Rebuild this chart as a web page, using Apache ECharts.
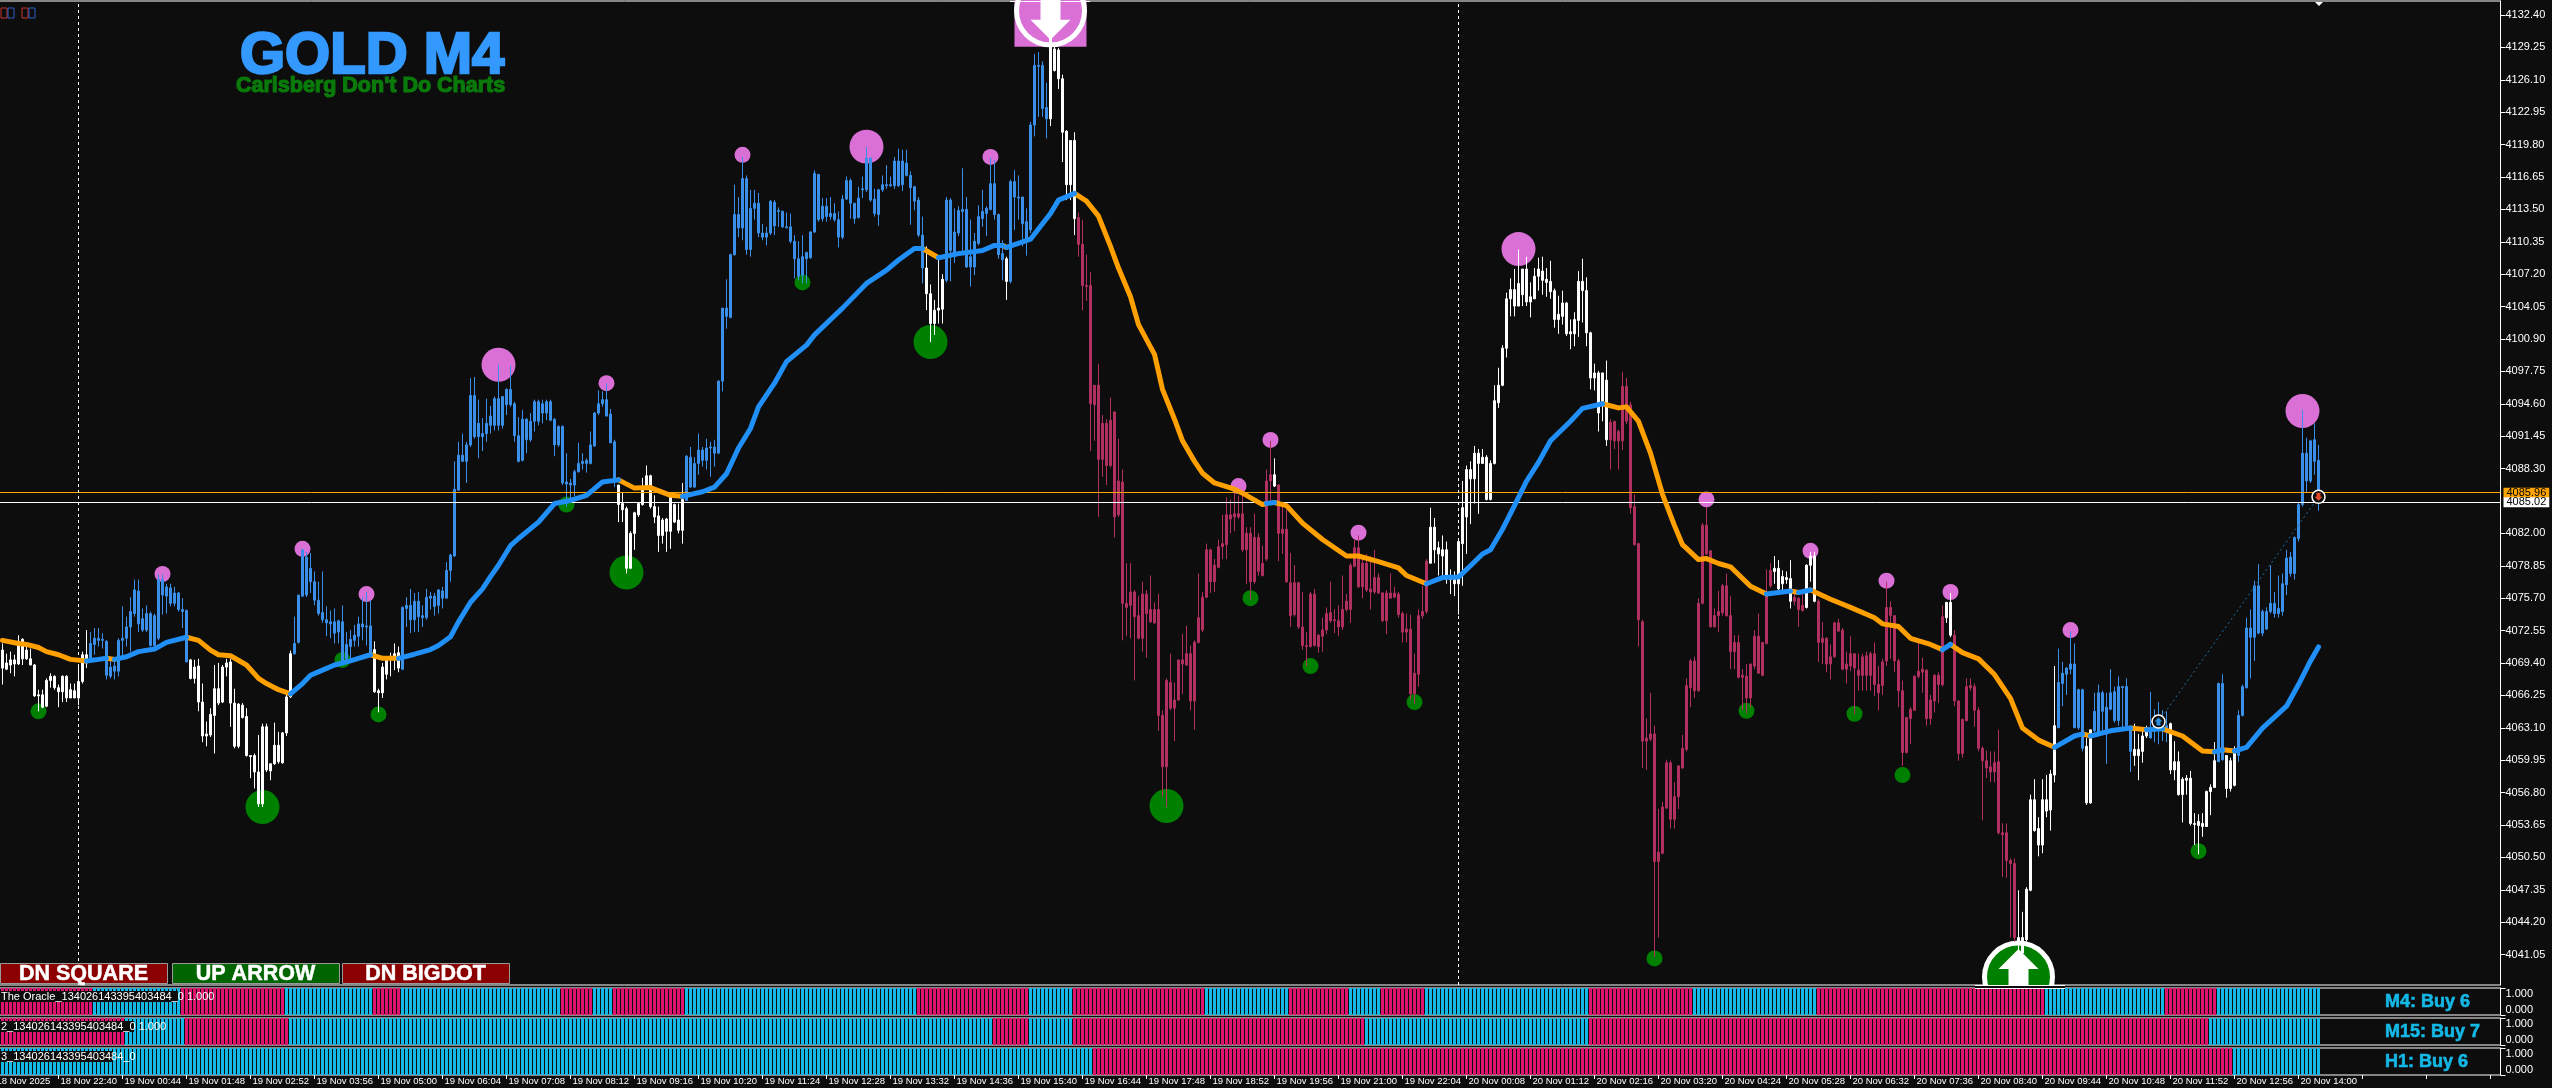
<!DOCTYPE html>
<html><head><meta charset="utf-8">
<style>html,body{margin:0;padding:0;background:#0d0d0d}#c{width:2552px;height:1088px}</style>
<script src="https://cdn.jsdelivr.net/npm/echarts@6/dist/echarts.min.js"></script>
</head><body><div id="c"></div>
<script>
const PRICE_BASE = 4000;
// each candle row: body high, body low, wick high, wick low (price minus PRICE_BASE)
const W1=[[70.65,68.9,71.3,67.3],[69.4,68.8,70.3,68.7],[69.7,69.2,70.5,68.4],[69.7,69.3,70.2,68.1],[71.5,69.3,72.1,69.2],[71.7,69.8,71.8,69.2],[70.65,69.8,71.1,69.7],[69.8,69.2,70.8,69.2],[69.2,66.2,69.3,66.1],[66.3,66.2,66.8,64.7],[66.3,65.1,66.8,65.0],[67.7,65.2,67.9,65.1],[68.1,67.7,68.4,67.0],[68.1,67.0,68.2,66.8],[67.0,66.6,67.3,65.1],[68.1,66.6,68.2,65.6],[68.1,66.0,68.2,65.6],[66.8,66.0,67.4,66.0],[66.7,66.0,67.4,66.0],[67.6,66.0,69.2,65.3],[70.2,67.6,70.5,67.4],[70.2,69.4,72.6,68.9]];
const B1=[[71.3,69.8,72.4,69.8],[71.8,71.2,72.8,70.2],[71.8,71.6,72.8,71.0],[71.7,71.6,72.3,70.8],[71.5,68.2,71.6,67.8],[69.0,68.1,70.0,67.9],[69.1,68.6,69.8,67.8],[71.6,68.6,71.8,68.1],[71.8,71.6,74.9,69.8],[72.9,71.8,73.9,71.0],[74.4,72.9,75.8,70.5],[76.5,74.2,77.5,73.9],[76.4,73.2,77.5,72.4],[73.7,72.6,74.7,72.4],[74.2,72.6,75.0,72.4],[74.2,71.1,74.4,71.0],[74.0,71.1,74.2,71.0],[77.5,71.8,78.0,71.6],[77.5,76.0,78.0,74.1],[76.8,75.9,77.1,74.2],[76.7,75.2,77.1,74.9],[76.2,75.2,76.8,74.9],[76.2,74.6,76.3,74.4],[74.6,74.4,75.7,72.8],[74.5,69.5,74.6,69.5]];
const W2=[[69.7,67.9,69.8,67.8],[69.0,67.9,69.7,67.4],[69.1,65.6,69.8,64.7],[65.6,62.3,67.4,61.7],[62.5,62.3,63.7,61.3],[64.4,62.4,65.0,62.2],[66.9,64.3,69.2,60.6],[66.9,65.5,69.4,65.3],[69.0,65.6,69.2,65.5],[69.4,69.0,69.8,68.1],[69.5,65.5,69.8,63.2],[65.5,61.3,66.9,61.1],[65.4,61.3,65.5,61.1],[65.3,64.1,65.5,64.0],[64.2,60.4,65.0,60.3],[60.4,60.3,60.4,58.2],[60.4,58.8,60.6,57.2],[58.8,55.7,62.4,55.4],[63.2,55.7,63.5,55.4],[63.2,59.0,63.5,58.8],[59.6,58.9,59.6,58.0],[61.4,59.6,63.6,59.5],[61.4,59.8,62.7,59.6],[62.6,59.7,62.7,59.6],[66.1,62.6,66.4,62.3],[70.3,66.1,70.6,66.0]];
const B2=[[71.3,70.3,73.9,70.2],[76.0,71.4,76.0,71.3],[80.4,75.9,80.4,75.8],[79.7,76.0,80.2,75.8],[78.6,77.3,80.1,76.2],[77.3,75.5,78.3,75.0],[75.5,74.2,77.3,74.0],[74.3,73.6,78.3,73.3],[73.6,73.3,74.9,72.0],[73.4,73.2,74.5,71.8],[73.4,72.3,74.7,71.3],[73.5,72.4,73.6,71.3],[73.4,69.4,75.0,69.2],[71.2,69.8,72.4,69.4],[71.7,71.0,72.6,69.8],[72.1,71.6,73.1,71.0],[73.2,72.0,73.9,71.0],[73.2,72.9,75.8,71.6],[73.0,72.9,76.3,71.1],[73.0,70.2,75.5,70.2]];
const W3=[[70.7,66.6,71.5,66.5],[66.7,66.5,66.9,64.6],[69.0,66.5,69.4,66.0],[69.7,68.3,70.0,67.8],[69.8,69.7,70.4,68.1],[70.3,69.8,71.3,68.7],[70.4,68.9,71.0,68.5]];
const B3=[[74.8,68.8,74.9,68.7],[75.0,74.7,75.8,72.9],[75.0,73.6,76.6,72.3],[75.4,73.6,76.2,72.4],[75.4,73.9,76.3,72.4],[74.0,73.8,75.0,72.9],[75.8,73.8,76.6,73.6],[75.9,75.7,76.3,74.6],[75.9,74.9,76.2,74.0],[76.5,75.0,76.6,74.2],[76.4,75.7,76.8,74.7],[78.4,75.7,79.2,75.7],[79.9,78.4,80.0,77.3],[86.3,79.8,89.0,79.7],[89.6,86.2,90.9,86.2],[89.6,89.0,91.7,89.0],[90.6,89.0,90.9,86.9],[95.4,90.6,97.1,90.4],[95.4,91.4,97.2,91.2],[92.7,91.4,95.0,89.3],[91.7,91.4,93.2,90.0],[92.7,91.7,95.1,90.9],[93.4,92.5,94.4,91.7],[95.1,92.5,95.3,92.0],[95.1,92.5,98.4,92.0],[95.3,92.5,95.3,92.2],[96.0,94.5,96.1,93.5],[96.0,94.5,98.3,94.3],[94.6,91.5,94.8,90.9],[91.5,89.0,93.3,88.9],[93.1,89.1,94.0,89.0],[93.1,91.1,93.2,89.8],[92.9,91.1,93.7,90.9],[94.8,92.9,95.0,91.9],[94.8,92.9,95.0,92.5],[94.6,93.7,95.0,92.7],[94.8,93.7,95.0,93.0],[94.8,93.0,95.0,92.9],[93.1,90.6,93.2,89.5],[92.4,90.6,92.5,90.4],[92.4,86.9,92.5,86.7],[87.0,86.8,89.8,84.6],[86.9,86.7,87.3,85.2],[88.0,86.7,88.2,85.6],[88.8,88.0,90.8,87.9],[89.0,88.8,89.8,88.2],[89.1,88.8,89.3,87.9],[90.6,88.8,91.9,88.7],[93.7,90.5,93.8,90.4],[94.6,93.7,95.9,93.5],[95.0,94.6,95.8,94.3],[95.0,93.4,96.6,93.4],[93.6,90.8,94.1,90.8],[90.9,87.0,91.1,86.5]];
const W4=[[86.7,84.8,86.7,83.1],[84.9,84.3,86.0,83.1],[84.4,78.6,84.6,78.1],[82.0,78.6,82.2,78.6],[84.0,82.0,84.1,80.4],[84.9,83.8,85.0,83.6],[86.3,84.8,87.4,84.7],[87.6,86.5,88.6,86.5],[87.6,84.6,87.7,84.4],[84.6,83.6,85.7,83.0],[83.7,81.8,84.6,80.2],[83.3,81.8,83.5,81.0],[83.4,82.2,83.5,80.2],[85.6,82.2,85.7,80.5],[84.8,83.1,84.9,83.0],[83.3,82.3,84.9,82.0],[85.3,82.3,86.9,81.0]];
const B4=[[89.5,85.2,89.6,85.2],[89.4,86.5,90.4,86.4],[88.8,86.5,89.4,86.4],[90.1,88.8,91.7,87.7],[90.1,89.1,90.4,88.5],[90.3,89.1,91.2,88.2],[90.4,90.3,90.9,87.5],[90.4,89.8,91.1,88.5],[96.8,89.8,96.9,89.7],[103.9,96.8,103.9,95.8],[103.9,103.1,106.7,101.9],[109.1,103.0,109.2,102.9],[113.0,109.1,115.9,109.0],[113.0,111.7,114.7,110.8],[116.5,111.7,118.6,110.5],[116.5,109.6,116.8,109.1],[113.6,109.6,115.4,108.9],[114.1,113.6,115.4,112.5],[114.1,111.2,115.1,110.8],[111.2,110.8,112.1,110.5],[111.2,110.8,111.8,110.0],[114.3,111.2,114.4,111.0],[114.2,111.9,114.4,111.0],[113.4,113.3,113.7,111.8],[113.3,111.8,113.4,111.7],[111.8,111.7,113.2,111.7],[111.8,110.4,113.1,110.2],[110.4,108.7,111.0,106.8],[108.7,107.0,110.4,106.6],[108.9,107.1,111.0,106.3],[109.3,108.7,109.4,106.3],[111.3,108.8,111.4,108.7],[117.0,111.3,117.3,111.2],[116.9,112.5,116.9,112.3],[113.8,112.6,114.6,112.3],[113.8,112.8,114.6,112.3],[113.1,112.8,114.7,112.5],[113.1,112.5,114.1,112.3],[112.5,110.8,113.3,109.8],[114.5,110.8,114.9,110.6],[116.3,114.5,116.7,114.4],[116.3,114.1,116.5,112.6],[114.1,112.6,114.1,112.1],[114.6,112.7,115.7,112.6],[115.5,115.4,116.7,114.6],[118.5,115.4,119.6,115.2],[118.5,114.4,118.5,114.25],[114.5,113.1,115.5,112.8],[115.4,113.0,115.5,111.9],[115.9,115.4,116.8,115.2],[115.9,115.8,117.8,115.5],[115.9,115.8,116.7,115.7],[118.2,115.8,118.6,115.5],[118.2,115.8,119.4,115.7],[118.2,115.9,119.3,115.3],[118.0,116.8,119.3,116.7],[116.8,115.6,117.2,112.0],[115.7,114.3,115.8,113.4],[114.4,111.0,114.7,110.8],[111.0,107.8,112.8,106.3]];
const W5=[[107.8,105.3,109.9,103.7],[105.3,102.4,106.2,100.6],[103.7,102.4,104.7,101.3],[103.9,103.7,108.9,102.4],[106.7,103.8,107.2,102.4]];
const B5=[[114.4,106.6,114.7,106.4],[114.4,109.5,114.6,106.5],[111.3,108.9,113.6,108.3],[113.4,111.2,113.8,110.9],[113.5,113.3,117.5,109.2],[113.5,107.9,114.7,107.8],[108.9,107.9,112.5,106.0],[110.4,107.9,111.2,107.1],[112.8,110.2,113.9,110.0],[113.3,112.6,115.4,111.8],[113.6,113.1,113.8,110.9],[116.0,113.5,118.5,113.4],[116.0,113.0,118.3,112.5],[113.0,109.1,113.1,108.7],[109.2,108.6,110.5,106.6]];
const W6a=[[108.7,106.5,108.9,104.7]];
const B6=[[116.2,106.5,116.4,106.3],[116.2,114.7,117.3,111.5],[114.7,114.6,116.8,112.5],[114.7,112.1,114.7,109.9],[112.3,110.5,113.6,109.0],[121.7,111.5,122.0,111.2],[127.5,121.7,128.6,120.6],[127.5,127.4,128.8,122.5],[127.5,123.3,127.9,122.5],[123.4,122.3,125.8,120.4]];
const W6=[[133.5,122.3,133.5,121.6],[129.1,127.0,129.3,126.9],[129.0,126.2,129.2,125.2],[126.2,121.0,126.6,118.1],[121.1,115.9,121.2,114.4],[120.2,115.9,120.2,114.4],[120.2,112.6,121.0,111.0]];
const C1=[[112.7,110.1,113.2,108.9],[110.1,106.1,112.5,103.7],[106.1,106.0,109.1,104.6],[106.1,94.6,107.4,90.0],[96.4,94.5,96.4,91.0],[96.4,89.2,98.5,83.6],[92.7,89.2,93.5,87.5],[92.7,88.6,93.1,86.7],[93.0,88.6,95.2,88.4],[93.8,83.6,93.9,81.6],[87.1,83.8,91.2,83.6],[87.0,75.2,88.2,71.6],[75.2,74.8,79.1,72.0],[76.3,75.0,79.1,71.8],[76.3,73.9,76.5,67.7],[74.0,71.8,75.9,71.7],[76.1,71.8,77.3,70.5],[76.1,74.2,76.5,69.9],[74.6,73.4,77.9,73.3],[74.6,73.3,75.3,73.2],[74.6,64.3,76.1,62.8],[64.3,59.3,64.8,56.4],[67.7,59.3,67.9,55.4],[67.5,65.0,70.3,64.8],[65.8,65.0,67.5,61.8],[69.7,65.8,69.7,65.7],[69.7,69.3,72.2,66.4],[70.3,69.2,73.0,69.1],[70.3,65.7,71.1,64.8],[71.4,65.7,71.6,62.9],[73.8,71.4,78.1,71.3],[75.8,72.6,76.3,72.4],[80.4,75.8,81.0,75.7],[80.4,77.3,80.5,76.2],[78.9,77.3,79.5,76.3],[80.7,78.7,81.4,78.6],[81.0,80.7,83.8,79.5],[83.8,80.9,85.5,79.5],[83.8,83.4,85.3,82.0],[83.9,83.6,86.1,82.2],[83.9,83.6,85.7,83.4],[83.9,80.4,85.7,80.2],[82.0,80.4,82.6,77.1],[82.0,77.3,82.6,75.6],[81.6,77.3,83.9,77.1],[81.6,78.3,82.0,77.9],[79.1,77.9,80.8,77.8],[87.1,79.5,88.2,79.3],[87.7,87.1,91.0,84.9]];
const W7=[[87.7,86.6,89.3,86.5]];
const C2=[[86.7,82.0,86.8,79.3],[82.4,82.0,84.7,80.0],[82.4,77.3,84.3,77.2],[77.2,74.0,80.1,72.9],[77.2,74.1,78.9,73.9],[77.2,72.9,77.3,72.7],[72.9,71.1,76.3,70.7],[71.1,71.0,72.4,69.1],[76.1,71.0,76.3,70.9],[76.1,71.1,76.6,71.0],[72.1,71.0,72.2,70.4],[72.6,72.0,73.8,70.5],[74.2,72.6,74.8,72.2],[74.3,73.5,77.3,73.3],[73.6,73.5,74.6,72.3],[73.5,72.9,75.0,72.0],[74.6,72.9,77.9,72.6],[75.4,74.6,76.1,74.4],[78.9,74.6,79.1,73.3],[80.6,78.8,81.4,78.7],[80.6,76.8,81.8,76.7],[79.1,76.8,79.8,75.7],[79.1,76.5,80.0,76.3],[76.6,76.3,79.8,74.6],[77.7,76.3,80.4,76.1],[77.7,76.2,78.1,76.1],[76.2,73.5,76.3,73.4],[76.2,73.5,76.5,72.2],[76.2,75.7,78.1,75.7],[76.2,75.8,76.8,75.7],[76.1,74.1,76.3,73.8],[74.2,72.4,74.4,71.4],[72.7,72.4,74.2,71.4],[72.7,66.4,74.1,65.8],[68.4,66.4,70.3,65.4],[74.0,68.3,74.6,67.1],[74.4,74.0,76.9,73.7],[79.3,74.4,79.5,74.2]];
const W8=[[82.6,79.1,84.5,79.1],[82.6,80.4,83.5,79.1],[80.6,80.0,81.2,77.9],[80.4,79.8,81.8,77.9],[80.4,77.9,81.2,77.1],[77.9,77.5,78.5,76.1],[77.5,77.1,78.3,75.9],[81.2,77.1,81.2,74.1],[84.5,81.0,87.1,76.9],[88.2,83.6,88.6,80.0],[88.2,87.3,89.0,82.9],[89.8,87.3,90.5,84.9],[89.8,88.8,90.2,83.9],[89.4,88.8,90.2,88.8],[89.4,85.3,89.6,85.2],[88.8,85.3,89.1,85.2],[94.9,88.8,96.4,88.7],[96.4,94.7,98.1,94.2],[100.0,96.4,100.3,96.3],[104.8,100.0,105.4,99.1],[105.7,104.8,106.8,103.1],[105.7,104.1,107.7,103.1],[106.3,104.1,109.6,104.1],[107.7,105.2,107.7,104.1],[107.7,104.5,108.9,104.1],[105.0,104.5,106.4,103.0],[107.0,104.8,107.8,104.8],[107.7,107.0,108.8,105.6],[107.5,106.6,108.9,105.2],[106.7,106.4,107.8,105.0],[106.5,105.5,108.5,104.8],[105.6,102.8,105.8,102.0],[103.3,102.8,105.1,101.4],[104.4,103.1,105.6,102.3],[104.4,101.4,104.5,101.2],[101.6,101.4,102.8,99.9],[102.8,101.4,103.5,100.2],[106.5,102.7,107.5,101.1],[106.5,105.6,108.7,102.5],[105.6,101.5,106.9,100.2],[101.5,97.1,101.6,96.0],[97.6,97.1,98.5,95.9],[97.6,93.7,97.8,91.9],[97.6,94.4,97.6,92.9],[96.9,91.1,98.8,90.5]];
const C3=[[92.8,91.1,93.1,88.2],[92.9,91.0,92.9,90.2],[91.9,91.0,92.1,88.2],[96.3,91.0,97.7,90.1],[96.3,92.9,97.1,92.6],[94.5,84.5,94.8,83.9],[84.6,80.9,85.8,80.8],[81.0,73.6,81.1,71.0],[73.4,61.8,73.6,59.2],[62.1,61.8,64.0,59.0],[62.5,62.0,66.5,61.8],[62.5,50.1,63.3,40.8],[51.0,50.1,55.2,42.7],[55.4,50.9,55.9,50.8],[59.7,55.3,60.0,55.2],[59.7,54.2,59.9,53.3],[56.4,54.2,57.8,53.3],[59.4,56.4,59.4,55.2],[61.1,59.2,62.4,59.1],[67.2,61.0,67.9,60.8],[69.6,67.0,69.8,65.1],[69.6,66.7,70.0,66.0],[75.2,66.7,75.7,66.6],[82.8,75.2,83.0,75.1],[82.8,80.0,84.5,79.9],[80.3,72.9,80.4,72.9],[74.0,72.9,74.7,72.9],[74.4,74.0,76.4,72.4],[76.9,74.3,77.1,74.0],[76.9,74.0,78.1,73.9],[74.0,70.5,75.9,68.8],[71.4,70.5,72.1,68.8],[71.4,68.0,72.1,67.9],[68.2,68.0,68.8,64.8],[68.1,66.0,69.3,64.5],[69.3,66.0,69.3,65.1],[72.0,69.1,72.6,68.8],[72.0,68.4,74.2,68.4],[71.4,68.2,71.4,68.1],[76.2,71.3,78.5,71.2],[78.4,76.9,79.1,76.7]];
const W9=[[78.6,78.3,79.8,77.1],[78.6,76.6,79.4,76.5],[77.8,77.1,78.4,76.2],[77.7,77.5,78.3,77.1],[77.6,75.4,79.4,74.7]];
const C4=[[75.8,75.4,76.4,75.0],[75.7,74.6,75.8,72.9],[75.0,74.5,76.4,74.4]];
const W10=[[78.9,74.8,79.0,74.7],[79.8,78.9,80.2,77.3],[79.8,75.4,80.2,75.3]];
const C5=[[75.4,71.4,75.6,69.5],[71.8,71.4,73.4,69.3],[71.8,69.3,71.9,68.5],[70.0,69.3,71.2,67.8],[73.3,70.0,73.4,69.9],[73.3,72.5,73.7,72.4],[72.6,68.8,72.8,68.7],[69.3,68.8,70.5,67.4],[70.3,69.1,72.0,68.6],[70.3,68.9,70.3,64.4],[68.7,68.2,70.3,66.7],[70.0,68.2,70.3,66.7],[70.1,68.2,70.5,66.7],[70.3,68.2,70.5,66.7],[70.3,67.3,71.4,66.2],[67.3,66.5,69.1,64.8],[69.5,67.2,69.8,66.3],[74.8,69.6,77.3,69.1],[74.8,74.0,75.4,69.8],[74.0,69.6,74.0,68.5],[69.6,66.7,69.8,65.1],[66.7,60.7,67.7,59.4],[64.1,60.7,64.1,60.6],[64.9,64.0,65.1,61.5],[68.1,64.8,68.2,64.8],[68.6,68.1,71.4,67.9],[68.8,68.5,69.9,66.5],[68.7,64.0,68.8,63.3],[65.8,64.0,66.3,63.4],[68.2,65.7,68.3,64.6],[68.2,67.3,68.5,65.5],[73.9,67.3,75.0,67.1]];
const W11a=[[75.3,73.8,75.3,73.3],[75.3,72.1,76.2,71.9]];
const C6=[[72.1,65.7,72.6,65.2],[65.7,60.6,65.8,59.9],[63.9,60.6,64.0,60.2],[67.1,63.8,67.9,63.7],[67.2,67.0,67.9,66.7],[67.1,64.8,67.4,63.2],[64.8,61.1,65.1,60.8],[61.1,59.9,61.3,54.1],[59.9,59.2,60.9,58.2],[59.3,58.8,60.8,57.8],[59.7,58.8,60.8,57.8],[59.8,52.9,62.9,52.7],[52.9,52.7,53.8,48.6],[52.9,50.2,53.8,48.5],[50.2,49.9,50.4,42.7],[49.9,42.7,50.4,42.3]];
const W11=[[42.7,42.3,47.3,39.2],[42.7,41.2,45.2,39.2],[47.4,42.5,47.6,42.3],[56.1,47.3,56.6,47.2],[56.1,53.1,58.1,53.0],[53.3,51.7,54.4,50.6],[56.1,51.7,58.1,50.9],[56.1,55.0,58.5,54.4],[58.6,55.1,59.0,53.1],[63.3,58.5,69.1,57.8]];
const B7=[[67.5,63.1,70.8,63.1],[68.4,67.4,69.5,65.2],[68.9,68.3,69.0,66.3],[69.3,68.8,72.5,68.3],[69.3,63.1,71.3,63.1],[66.8,63.1,66.9,62.9],[66.8,61.1,66.9,60.8]];
const W12=[[61.3,55.8,62.1,55.6],[62.9,55.8,62.9,55.7]];
const B8=[[64.7,62.8,66.5,62.7],[66.5,62.6,67.3,62.5],[66.5,64.7,66.7,62.6],[65.1,62.5,66.5,59.6],[66.5,64.9,68.8,64.8],[66.6,63.8,67.1,63.6],[67.1,63.8,68.1,63.3],[67.1,67.0,67.1,63.1],[67.1,63.3,67.9,63.1],[63.1,60.8,63.1,58.8]];
const W13=[[61.0,60.4,63.5,59.4],[61.0,60.4,62.5,58.0],[62.3,60.8,62.9,59.7],[63.1,62.3,63.3,62.1]];
const B9=[[63.1,62.1,66.6,62.1],[63.8,62.8,64.9,61.7],[63.8,63.3,65.6,61.5],[63.8,63.1,64.8,61.8],[63.3,62.9,64.7,61.7]];
const W14=[[63.5,59.0,63.6,58.6],[59.8,59.0,61.8,58.0],[59.8,56.6,60.8,56.5],[58.1,56.6,58.3,53.9],[58.2,58.0,58.5,56.6],[58.2,53.8,58.9,53.6],[53.8,53.7,54.8,51.7],[54.0,53.6,54.7,50.8],[53.8,53.5,54.8,52.5],[56.9,53.5,57.0,53.5],[57.3,56.9,57.6,54.6],[59.9,57.3,61.7,57.3]];
const B10=[[67.4,59.8,67.5,59.8],[67.4,60.0,68.3,59.9]];
const W15=[[60.4,57.2,60.4,56.3],[59.9,57.2,60.2,56.9],[61.0,57.5,61.3,57.4]];
const B11=[[64.3,60.4,64.8,59.8],[67.1,64.3,67.3,64.2],[72.8,67.0,73.8,66.9],[72.8,71.9,74.6,67.9],[76.9,71.9,77.4,69.6],[76.9,72.3,79.0,72.2],[74.4,72.3,74.6,72.0],[74.4,72.7,74.8,72.6],[75.2,74.4,78.9,74.2],[75.2,74.2,76.3,73.8],[74.7,74.2,77.9,73.8],[77.1,74.4,78.1,74.0],[79.6,77.0,80.4,76.0],[79.7,78.1,80.2,77.8],[81.6,78.1,81.7,77.5],[84.8,81.5,85.0,81.2],[89.8,84.8,94.0,84.6],[89.8,87.1,91.3,86.0],[91.0,87.1,91.1,86.9],[91.1,89.0,92.7,87.7],[89.1,86.0,90.6,84.2]];

// moving average vertices: [bar index, price minus PRICE_BASE]
const maOrange=[
[[0,71.6],[4,71.3],[6,71.2],[9,70.9],[11,70.5],[14,70.2],[17,69.75],[21,69.6]],
[[26,69.85],[28,69.75]],
[[46,71.9],[49,71.6],[52,70.65],[54,70.2],[57,70.1],[61,69.2],[64,67.9],[66,67.4],[69,66.8],[72,66.4]],
[[92,70.2],[95,69.85],[99,69.85]],
[[154,87.2],[158,86.4],[162,86.45],[167,85.7],[170,85.6]],
[[230,109.7],[234,108.8]],
[[250,110.0],[251,109.8]],
[[268,115.06],[271,114.3],[274,112.85],[277,109.9],[279,107.8],[282,105],[284,102.3],[288,99.4],[290,96],[293,93.1],[295,91],[298,89],[300,87.85],[303,86.9],[308,86.3],[311,85.7],[315,84.8],[316,84.9]],
[[318,85.0],[321,84.7],[325,83],[330,81.4],[336,79.8],[339,79.8],[344,79.25],[349,78.65],[351,77.9],[356,77.1]],
[[400,94.6],[404,94.2],[406,94.3],[409,92.9],[412,89.8],[415,85.8],[418,82.75],[420,80.9],[424,79.45],[426,79.55],[429,79.07],[432,78.75],[437,76.86],[441,76.1]],
[[447,76.4],[449,76.25]],
[[452,76.5],[457,75.6],[462,74.8],[468,73.8],[470,73.2],[474,72.95],[477,71.8],[482,71.2],[485,70.7]],
[[487,71.2],[490,70.4],[494,69.8],[498,68.27],[502,65.96],[505,63.07],[509,61.9],[513,61.2]],
[[520,62.5],[522,62.3]],
[[532,63.07],[536,62.9]],
[[540,63],[545,62.3],[550,60.84],[553,60.76]],
[[555,60.96],[558,60.84]]];
const maBlue=[
[[21,69.6],[24,69.75],[26,69.85]],
[[28,69.75],[31,70.0],[34,70.5],[38,70.75],[41,71.4],[46,71.9]],
[[72,66.4],[75,67.4],[77,68.2],[80,68.7],[83,69.2],[87,69.6],[89,69.85],[92,70.2]],
[[99,69.85],[103,70.25],[107,70.7],[109,71.1],[112,71.95],[114,73.4],[117,75.3],[120,76.6],[122,77.8],[124,78.9],[127,80.8],[129,81.5],[134,83.1],[138,84.9],[142,85.2],[146,85.7],[150,87.0],[154,87.2]],
[[170,85.6],[175,86.05],[178,86.5],[181,87.8],[184,90.3],[187,92.2],[189,94.3],[193,96.6],[196,98.7],[201,100.3],[203,101.3],[210,103.9],[216,106.3],[221,107.6],[224,108.58],[228,109.7],[230,109.7]],
[[234,108.8],[239,109.2],[245,109.5],[248,110.0],[250,110.0]],
[[251,109.8],[257,110.6],[260,112.1],[262,113.1],[264,114.4],[268,115.06]],
[[316,84.9],[318,85.0]],
[[356,77.1],[360,77.7],[364,77.75],[367,78.85],[370,80],[372,80.4],[375,82.4],[378,84.7],[381,87.07],[384,88.9],[387,91],[392,92.9],[395,94.15],[400,94.6]],
[[441,76.1],[447,76.4]],
[[449,76.25],[452,76.5]],
[[485,70.7],[487,71.2]],
[[513,61.2],[518,62.3],[520,62.5]],
[[522,62.3],[527,62.8],[532,63.07]],
[[536,62.9],[540,63]],
[[553,60.76],[555,60.96]],
[[558,60.84],[561,61.2],[565,63.07],[571,65.2],[574,67.3],[577,69.6],[579,70.96]]];

const pinkSmall=[[40,78.05],[75,80.5],[91,76.1],[151,96.6],[185,118.8],[247,118.6],[309,86.6],[317,91.09],[339,82.07],[426,85.3],[452,80.3],[471,77.4],[487,76.3],[517,72.6]];
const pinkBig=[[124,98.4],[216,119.6],[379,109.64],[575,93.9]];
const greenSmall=[[9,64.7],[85,69.7],[94,64.4],[141,84.8],[200,106.4],[312,75.7],[327,69.1],[353,65.6],[413,40.67],[436,64.75],[463,64.46],[475,58.5],[549,51.1]];
const greenBig=[[65,55.4],[156,78.2],[232,100.6],[291,55.5]];
const bigDownArrow=[262,132.8];
const bigUpArrow=[504,38.87];
const tradeOpen=[539,63.7];
const tradeClose=[579,85.55];
const askLine=4085.96, bidLine=4085.02;
const dashedBars=[19,364];

const priceTicks=[4132.40,4129.25,4126.10,4122.95,4119.80,4116.65,4113.50,4110.35,4107.20,4104.05,4100.90,4097.75,4094.60,4091.45,4088.30,4082.00,4078.85,4075.70,4072.55,4069.40,4066.25,4063.10,4059.95,4056.80,4053.65,4050.50,4047.35,4044.20,4041.05];
const timeLabels=['18 Nov 2025','18 Nov 22:40','19 Nov 00:44','19 Nov 01:48','19 Nov 02:52','19 Nov 03:56','19 Nov 05:00','19 Nov 06:04','19 Nov 07:08','19 Nov 08:12','19 Nov 09:16','19 Nov 10:20','19 Nov 11:24','19 Nov 12:28','19 Nov 13:32','19 Nov 14:36','19 Nov 15:40','19 Nov 16:44','19 Nov 17:48','19 Nov 18:52','19 Nov 19:56','19 Nov 21:00','19 Nov 22:04','20 Nov 00:08','20 Nov 01:12','20 Nov 02:16','20 Nov 03:20','20 Nov 04:24','20 Nov 05:28','20 Nov 06:32','20 Nov 07:36','20 Nov 08:40','20 Nov 09:44','20 Nov 10:48','20 Nov 11:52','20 Nov 12:56','20 Nov 14:00'];

// strip states: bar index where each state begins (1 buy cyan, 0 sell pink)
const m4Starts=[0,23,45,71,93,100,140,148,153,171,229,257,268,301,322,337,345,356,397,423,454,511,541,554];
const m4States=[0,1,0,1,0,1,0,1,0,1,0,1,0,1,0,1,0,1,0,1,0,1,0,1];
const m15Starts=[0,31,46,72,248,257,268,341,397,552];
const m15States=[0,1,0,1,0,1,0,1,0,1];
const h1Starts=[0,273,558];
const h1States=[1,0,1];

const WHITE='#ffffff',BLUE='#3a8fe8',CRIM='#b03060';
const runs=[[WHITE,W1],[BLUE,B1],[WHITE,W2],[BLUE,B2],[WHITE,W3],[BLUE,B3],[WHITE,W4],[BLUE,B4],[WHITE,W5],[BLUE,B5],[WHITE,W6a],[BLUE,B6],[WHITE,W6],[CRIM,C1],[WHITE,W7],[CRIM,C2],[WHITE,W8],[CRIM,C3],[WHITE,W9],[CRIM,C4],[WHITE,W10],[CRIM,C5],[WHITE,W11a],[CRIM,C6],[WHITE,W11],[BLUE,B7],[WHITE,W12],[BLUE,B8],[WHITE,W13],[BLUE,B9],[WHITE,W14],[BLUE,B10],[WHITE,W15],[BLUE,B11]];

const LEAD=2, N=627; // LEAD empty slots before first bar (first time label sits there)
const cats=new Array(N).fill('').map((_,j)=> j%16===0 && timeLabels[j/16] ? timeLabels[j/16] : '');
const candleData=new Array(LEAD).fill(null).map(()=>['-','-','-','-']);
runs.forEach(([col,rows])=>rows.forEach(r=>candleData.push({value:[r[1]+PRICE_BASE,r[0]+PRICE_BASE,r[3]+PRICE_BASE,r[2]+PRICE_BASE],itemStyle:{color:col,color0:col,borderColor:col,borderColor0:col,borderWidth:1}})));
const BARS=candleData.length-LEAD;
const pt=p=>[p[0]+LEAD,p[1]+PRICE_BASE];

const FONT='"Liberation Sans Narrow","Liberation Sans",sans-serif';
const CYAN='#14b8e6',PINK='#e0146e';
function strip(starts,states){
  const d=new Array(LEAD).fill('-');
  for(let i=0;i<BARS;i++){let s=0;for(let k=0;k<starts.length;k++) if(starts[k]<=i) s=states[k];
    d.push({value:1,itemStyle:{color:s?CYAN:PINK}});}
  return d;
}
const gridX={left:-7.5,width:2508,outerBoundsMode:'none',containLabel:false};
const grids=[
 Object.assign({top:1,height:984},gridX),
 Object.assign({top:988,height:27},gridX),
 Object.assign({top:1018,height:27},gridX),
 Object.assign({top:1048,height:27},gridX)].map(g=>Object.assign(g,{show:true,borderColor:'#fff',borderWidth:1,backgroundColor:'transparent'}));
const xAxes=[0,1,2].map(g=>({type:'category',gridIndex:g,data:cats,boundaryGap:true,axisLine:{show:false},axisTick:{show:false},axisLabel:{show:false},splitLine:{show:false}}));
xAxes.push({type:'category',gridIndex:3,data:cats,boundaryGap:true,axisLine:{show:false},
  axisTick:{show:true,alignWithLabel:true,length:4,interval:j=>j%16===0,lineStyle:{color:'#fff',width:1}},
  axisLabel:{show:true,interval:j=>j%16===0,align:'left',margin:1,padding:[0,0,0,2],color:'#fff',fontSize:9.5,fontFamily:FONT,hideOverlap:false},splitLine:{show:false}});
const yAxes=[{type:'value',gridIndex:0,position:'right',min:4038.09,max:4133.76,scale:true,
  axisLine:{show:true,lineStyle:{color:'#fff'}},
  axisTick:{show:true,length:5,customValues:priceTicks,lineStyle:{color:'#fff'}},
  axisLabel:{show:true,customValues:priceTicks,formatter:v=>v.toFixed(2),margin:5,color:'#fff',fontSize:11,fontFamily:FONT},splitLine:{show:false}}];
[1,2,3].forEach(g=>yAxes.push({type:'value',gridIndex:g,position:'right',min:0,max:1,interval:1,
  axisLine:{show:true,lineStyle:{color:'#fff'}},axisTick:{show:true,length:5,lineStyle:{color:'#fff'}},
  axisLabel:{show:true,formatter:v=>v.toFixed(3),margin:5,color:'#fff',fontSize:11,fontFamily:FONT,verticalAlignMaxLabel:'top',verticalAlignMinLabel:'bottom'},splitLine:{show:false}}));

const scatter=(data,color,size,z)=>({type:'scatter',xAxisIndex:0,yAxisIndex:0,data:data.map(pt),symbolSize:size,itemStyle:{color,opacity:1},silent:true,z});
const ma=(segs,color)=>segs.map(s=>({type:'line',xAxisIndex:0,yAxisIndex:0,data:s.map(pt),symbol:'none',smooth:false,lineStyle:{color,width:5,cap:'round',join:'round'},silent:true,z:5}));
const hLabel=(bg,v)=>({show:true,position:'end',distance:3,formatter:v.toFixed(2),backgroundColor:bg,color:'#000',padding:[0,3,0,3],fontSize:11,lineHeight:10,height:10,fontFamily:FONT});
const DOWN='path://M5,0 H15 V10 H20 L10,20 L0,10 H5 Z', UP='path://M10,0 L20,10 H15 V20 H5 V10 H0 Z';

const series=[
 {type:'scatter',xAxisIndex:0,yAxisIndex:0,data:[pt(bigDownArrow)],symbol:'rect',symbolSize:[72,72],itemStyle:{color:'#da70d6',opacity:1},silent:true,z:1},
 {type:'scatter',xAxisIndex:0,yAxisIndex:0,data:[pt(bigDownArrow)],symbol:'circle',symbolSize:68,itemStyle:{color:'#da70d6',opacity:1,borderColor:'#fff',borderWidth:5},silent:true,z:1},
 {type:'scatter',xAxisIndex:0,yAxisIndex:0,data:[pt(bigDownArrow)],symbol:DOWN,symbolSize:[40,40],symbolOffset:[0,9],itemStyle:{color:'#fff',opacity:1},silent:true,z:1},
 {type:'scatter',xAxisIndex:0,yAxisIndex:0,data:[pt(bigUpArrow)],symbol:'circle',symbolSize:68,itemStyle:{color:'#008000',opacity:1,borderColor:'#fff',borderWidth:5},silent:true,z:1},
 {type:'scatter',xAxisIndex:0,yAxisIndex:0,data:[pt(bigUpArrow)],symbol:UP,symbolSize:[40,40],symbolOffset:[0,-8],itemStyle:{color:'#fff',opacity:1},silent:true,z:1},
 scatter(pinkSmall,'#da70d6',16,1),scatter(pinkBig,'#da70d6',34,1),
 scatter(greenSmall,'#008000',16,1),scatter(greenBig,'#008000',34,1),
 {type:'candlestick',xAxisIndex:0,yAxisIndex:0,data:candleData,barWidth:2.5,silent:true,z:3,clip:true,progressive:0,large:false,
  markLine:{silent:true,symbol:'none',animation:false,precision:2,data:[
    {yAxis:askLine,lineStyle:{color:'#ffa500',width:1,type:'solid'},label:hLabel('#ffa500',askLine)},
    {yAxis:bidLine,lineStyle:{color:'#ffffff',width:1,type:'solid'},label:hLabel('#ffffff',bidLine)},
    {xAxis:dashedBars[0]+LEAD,lineStyle:{color:'#fff',width:1,type:[3,3]},label:{show:false}},
    {xAxis:dashedBars[1]+LEAD,lineStyle:{color:'#fff',width:1,type:[3,3]},label:{show:false}}]}},
 ...ma(maOrange,'#ffa000'),...ma(maBlue,'#2090f8'),
 {type:'line',xAxisIndex:0,yAxisIndex:0,data:[pt(tradeOpen),pt(tradeClose)],symbol:'none',lineStyle:{color:'#1c6ea4',width:1,type:[2,3]},silent:true,z:6},
 {type:'scatter',xAxisIndex:0,yAxisIndex:0,data:[pt(tradeOpen),pt(tradeClose)],symbolSize:13,itemStyle:{color:'#0d0d0d',opacity:1,borderColor:'#fff',borderWidth:1.5},silent:true,z:7},
 {type:'scatter',xAxisIndex:0,yAxisIndex:0,data:[pt(tradeOpen)],symbol:UP,symbolSize:8,itemStyle:{color:'#2f8fe0',opacity:1},silent:true,z:8},
 {type:'scatter',xAxisIndex:0,yAxisIndex:0,data:[pt(tradeClose)],symbol:DOWN,symbolSize:8,itemStyle:{color:'#e04a2a',opacity:1},silent:true,z:8},
 {type:'bar',xAxisIndex:1,yAxisIndex:1,data:strip(m4Starts,m4States),barWidth:3,silent:true,z:9},
 {type:'bar',xAxisIndex:2,yAxisIndex:2,data:strip(m15Starts,m15States),barWidth:3,silent:true,z:9},
 {type:'bar',xAxisIndex:3,yAxisIndex:3,data:strip(h1Starts,h1States),barWidth:3,silent:true,z:9}
];

const txt=(x,y,text,font,fill,extra)=>({type:'text',z:50,silent:true,style:Object.assign({x,y,text,font,fill,textAlign:'left',textVerticalAlign:'middle',align:'left',verticalAlign:'middle'},extra||{})});
const btn=(x,w,col,label)=>[{type:'rect',z:50,silent:true,shape:{x:x+0.5,y:963.5,width:w,height:20},style:{fill:col,stroke:'#9a9a9a',lineWidth:1}},
  txt(x+w/2,974,label,'bold 21.5px "Liberation Sans"','#fff',{textAlign:'center',align:'center',stroke:'#fff',lineWidth:0.5})];
const tag=(y,h,w,t)=>[{type:'rect',z:50,silent:true,shape:{x:0,y,width:w,height:h},style:{fill:'#0d0d0d'}},
  txt(1,y+h/2,t,'11px '+FONT,'#fff')];
const buy=(y,t)=>txt(2385,y,t,'bold 18px "Liberation Sans"',CYAN,{stroke:CYAN,lineWidth:0.6});
const white=(x,y,w,h)=>({type:'rect',z:60,silent:true,shape:{x,y,width:w,height:h},style:{fill:'#fff'}});
const graphic=[
 // keeps the big up-arrow disc inside the price window (marks stay clipped at its bottom edge)
 {type:'rect',z:2,silent:true,shape:{x:1975,y:985.6,width:90,height:29},style:{fill:'#0d0d0d'}},
 white(1975,985,90,1),white(1975,988,90,1),
 white(1010,1,80,1),
 txt(240,57,'GOLD M4','bold 58px "Liberation Sans"','#3399ff',{stroke:'#3399ff',lineWidth:2.5}),
 txt(236,86,"Carlsberg Don't Do Charts",'bold 21.5px "Liberation Sans"','#0a7a0a',{stroke:'#0a7a0a',lineWidth:1.2}),
 ...btn(0,167,'#8b0000','DN SQUARE'),...btn(172,167,'#006400','UP ARROW'),...btn(342,167,'#8b0000','DN BIGDOT'),
 ...tag(991,11,178,'The Oracle_134026143395403484_0 1.000'),
 ...tag(1021,11,134,'2_134026143395403484_0 1.000'),
 ...tag(1051,11,112,'3_134026143395403484_0'),
 buy(1002,'M4: Buy 6'),buy(1032,'M15: Buy 7'),buy(1062,'H1: Buy 6'),
 {type:'rect',z:50,silent:true,shape:{x:1,y:8,width:6,height:10},style:{fill:'transparent',stroke:'#c8342c',lineWidth:1}},
 {type:'rect',z:50,silent:true,shape:{x:8,y:8,width:6,height:10},style:{fill:'transparent',stroke:'#2a62c8',lineWidth:1}},
 {type:'rect',z:50,silent:true,shape:{x:22,y:8,width:6,height:10},style:{fill:'transparent',stroke:'#c8342c',lineWidth:1}},
 {type:'rect',z:50,silent:true,shape:{x:29,y:8,width:6,height:10},style:{fill:'transparent',stroke:'#2a62c8',lineWidth:1}},
 {type:'polygon',z:50,silent:true,shape:{points:[[2315,2],[2323,2],[2319,6]]},style:{fill:'#fff'}}
];
const chart=echarts.init(document.getElementById('c'),null,{renderer:'canvas'});
chart.setOption({animation:false,backgroundColor:'#0d0d0d',grid:grids,xAxis:xAxes,yAxis:yAxes,series,graphic});
</script></body></html>
